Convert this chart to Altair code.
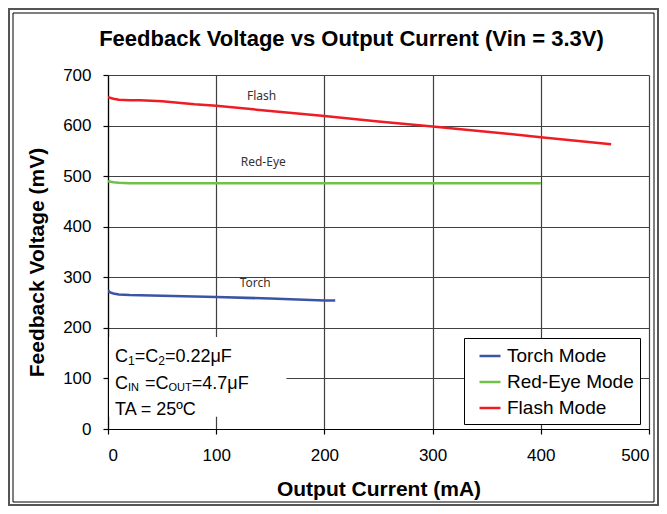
import altair as alt
import pandas as pd

# ---- data ----
series = ["Torch Mode", "Red-Eye Mode", "Flash Mode"]
colors = ["#3A55A5", "#70C04A", "#EE1D25"]

torch_x = [0, 2, 5, 10, 20, 40, 60, 100, 150, 200, 210]
torch_y = [274, 270, 268, 266, 265, 264, 263, 261, 258, 254, 254]
redeye_x = [0, 5, 10, 20, 50, 100, 200, 300, 400]
redeye_y = [490, 488, 487, 486, 486, 486, 486, 486, 486]
flash_x = [0, 5, 10, 20, 30, 40, 50, 60, 80, 100, 150, 200, 250, 300, 350, 400, 465]
flash_y = [656, 653, 651, 650, 650, 649, 648, 646, 642, 639, 629, 619, 608, 598, 588, 577, 563]

x_ticks = [0, 100, 200, 300, 400, 500]
y_ticks = [0, 100, 200, 300, 400, 500, 600, 700]

curve_labels = ["Flash", "Red-Eye", "Torch"]
curve_label_x = [142, 143.5, 136]
curve_label_y = [650, 520, 280]

# condition text (with sub-scripts as smaller pieces)
cond_text = ["C", "1", "=C", "2", "=0.22\u03bcF",
             "C", "IN", "=C", "OUT", "=4.7\u03bcF",
             "TA = 25\u00baC"]
cond_x = [6.47, 18.5, 24.7, 46.4, 52.6,
          6.47, 18.5, 34.2, 55.9, 77.4,
          6.47]
cond_y = [132.5, 126.5, 132.5, 126.5, 132.5,
          79.1, 75.5, 79.1, 75.5, 79.1,
          27.7]
cond_size = [18, 12, 18, 12, 18,
             18, 11, 18, 11, 18,
             18]

# white box behind condition text (data coords)
box_x, box_x2, box_y, box_y2 = [1], [165], [24], [182]

# ---- tables ----
rows = []
for name, xs, ys in zip(series, [torch_x, redeye_x, flash_x], [torch_y, redeye_y, flash_y]):
    for i, (a, b) in enumerate(zip(xs, ys)):
        rows.append({"mode": name, "current": a, "voltage": b, "order": i})
df = pd.DataFrame(rows)

df_lab = pd.DataFrame({"t": curve_labels, "x": curve_label_x, "y": curve_label_y})
df_cond = pd.DataFrame({"t": cond_text, "x": cond_x, "y": cond_y, "s": cond_size})
df_box = pd.DataFrame({"x": box_x, "x2": box_x2, "y": box_y, "y2": box_y2})

FONT = "Liberation Sans"

xscale = alt.Scale(domain=[0, 500], nice=False)
yscale = alt.Scale(domain=[0, 700], nice=False)

lines = alt.Chart(df).mark_line(strokeWidth=2.5, clip=True).encode(
    x=alt.X("current:Q", scale=xscale,
            axis=alt.Axis(values=x_ticks, title="Output Current (mA)",
                          titlePadding=15, labelPadding=13)),
    y=alt.Y("voltage:Q", scale=yscale,
            axis=alt.Axis(values=y_ticks, title="Feedback Voltage (mV)",
                          titlePadding=15, labelPadding=12, titleY=187)),
    color=alt.Color("mode:N",
                    scale=alt.Scale(domain=series, range=colors),
                    legend=alt.Legend(title=None, orient="none",
                                      legendX=356, legendY=263,
                                      fillColor="white", strokeColor="black",
                                      padding=6, symbolOffset=8,
                                      symbolType="stroke", symbolSize=441,
                                      symbolStrokeWidth=2.5,
                                      labelFont=FONT, labelFontSize=19,
                                      labelColor="black",
                                      labelOffset=5, rowPadding=4)),
    order="order:Q",
)

box = alt.Chart(df_box).mark_rect(fill="white", stroke=None).encode(
    x=alt.X("x:Q", scale=xscale), x2="x2:Q",
    y=alt.Y("y:Q", scale=yscale), y2="y2:Q",
)

labels = alt.Chart(df_lab).mark_text(font="Noto Sans", fontSize=12,
                                     color="#333333", align="center",
                                     baseline="alphabetic").encode(
    x=alt.X("x:Q", scale=xscale), y=alt.Y("y:Q", scale=yscale), text="t:N")

cond = alt.Chart(df_cond).mark_text(font=FONT, color="black", align="left",
                                    baseline="alphabetic").encode(
    x=alt.X("x:Q", scale=xscale), y=alt.Y("y:Q", scale=yscale), text="t:N",
    size=alt.Size("s:Q", scale=None))

frame_outer = alt.Chart(df_box).mark_rect(fill=None, stroke="#555555",
                                          strokeWidth=2).encode(
    x=alt.value(-99), x2=alt.value(550), y=alt.value(-66), y2=alt.value(430))
frame_inner = alt.Chart(df_box).mark_rect(fill=None, stroke="black",
                                          strokeWidth=1).encode(
    x=alt.value(-95), x2=alt.value(546), y=alt.value(-62), y2=alt.value(427))

chart = alt.layer(frame_outer, frame_inner, box, lines, labels, cond).properties(
    width=541, height=354,
    padding={"left": 100, "top": 67, "right": 10, "bottom": 77},
    autosize=alt.AutoSizeParams(type="none"),
    title=alt.TitleParams("Feedback Voltage vs Output Current (Vin = 3.3V)",
                          font=FONT, fontSize=22, fontWeight="bold",
                          color="black", anchor="middle", frame="group",
                          dx=-27, offset=-43),
).configure_view(stroke=None).configure_axis(
    labelFont=FONT, labelFontSize=17, labelColor="black",
    titleFont=FONT, titleFontSize=21, titleFontWeight="bold", titleColor="black",
    gridColor="#404040", gridWidth=1.2, gridOpacity=1,
    domainColor="black", domainWidth=1.2, tickColor="black", tickSize=5,
    tickWidth=1.2,
)

chart.save("out.html", embed_options={"renderer": "svg", "actions": False})
